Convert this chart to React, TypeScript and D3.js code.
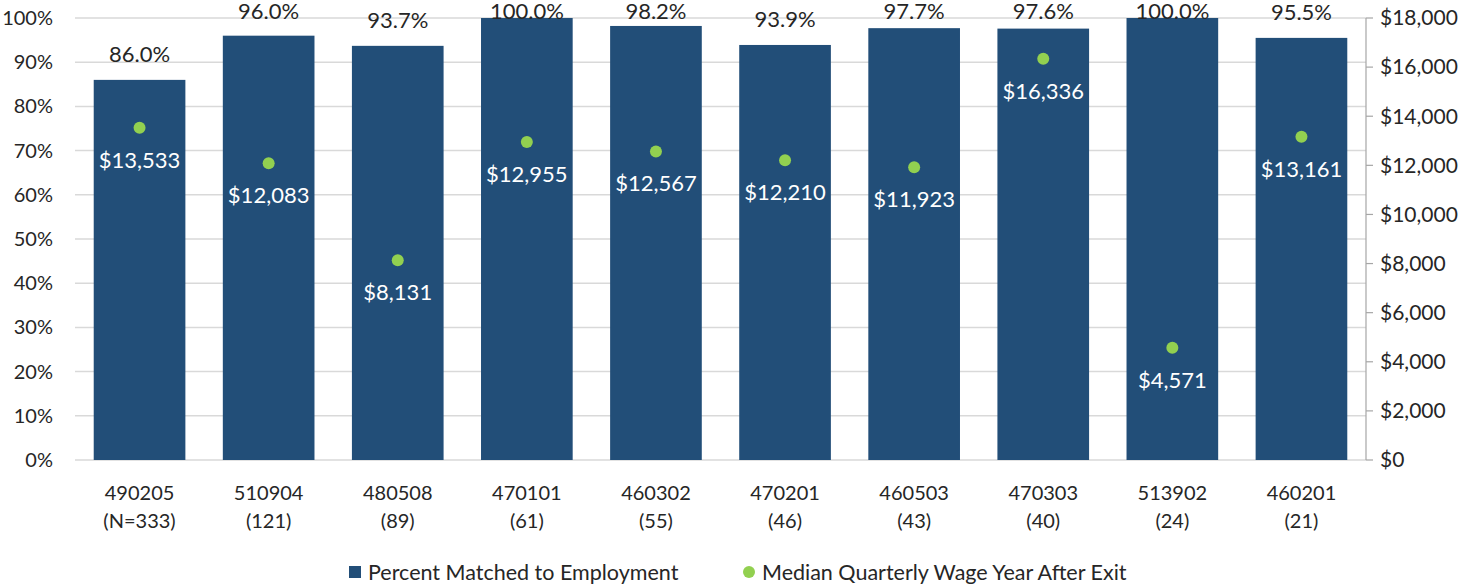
import React from "react";
import * as d3 from "d3";

const codes = ["490205", "510904", "480508", "470101", "460302", "470201", "460503", "470303", "513902", "460201"];
const counts = ["(N=333)", "(121)", "(89)", "(61)", "(55)", "(46)", "(43)", "(40)", "(24)", "(21)"];
const pctMatched = [86.0, 96.0, 93.7, 100.0, 98.2, 93.9, 97.7, 97.6, 100.0, 95.5];
const medianWage = [13533, 12083, 8131, 12955, 12567, 12210, 11923, 16336, 4571, 13161];
const pctTicks = [0, 10, 20, 30, 40, 50, 60, 70, 80, 90, 100];
const wageTicks = [0, 2000, 4000, 6000, 8000, 10000, 12000, 14000, 16000, 18000];

const W = 1481;
const H = 586;
const margin = { top: 18, right: 115, bottom: 126, left: 75 };
const FONT = "Lato, 'Open Sans', sans-serif";
const BAR = "#224E78";
const DOT = "#92D050";

export default function App() {
  const innerW = W - margin.left - margin.right;
  const innerH = H - margin.top - margin.bottom;

  const x = d3.scaleBand().domain(codes).range([0, innerW]).paddingInner(0.29).paddingOuter(0.145);
  const y = d3.scaleLinear().domain([0, 100]).range([innerH, 0]);
  const y2 = d3.scaleLinear().domain([0, 18000]).range([innerH, 0]);
  const money = (v: number) => "$" + d3.format(",")(v);

  return (
    <svg width={W} height={H} style={{ position: "absolute", left: 0, top: 0, background: "#fff" }} fontFamily={FONT}>
      <g transform={`translate(${margin.left},${margin.top})`}>
        {pctTicks.map((t) => (
          <g key={t}>
            <line x1={0} x2={innerW} y1={y(t)} y2={y(t)} stroke="#D9D9D9" strokeWidth={1.5} />
            <text x={-22} y={y(t)} dy="0.35em" textAnchor="end" fontSize={20} fill="#262626">{t}%</text>
          </g>
        ))}
        {codes.map((c, i) => {
          const cx = x(c)! + x.bandwidth() / 2;
          // label sits above the bar, but pushed down so it stays inside the plot
          const labelY = Math.max(y(pctMatched[i]) - 18, 1);
          return (
            <g key={c}>
              <rect x={x(c)} y={y(pctMatched[i])} width={x.bandwidth()} height={innerH - y(pctMatched[i])} fill={BAR} />
              <text x={cx} y={labelY} textAnchor="middle" fontSize={22} fill="#262626">{pctMatched[i].toFixed(1)}%</text>
              <circle cx={cx} cy={y2(medianWage[i])} r={6} fill={DOT} />
              <text x={cx} y={y2(medianWage[i]) + 40} textAnchor="middle" fontSize={22} fill="#fff">{money(medianWage[i])}</text>
              <text x={cx} y={innerH + 40} textAnchor="middle" fontSize={20} fill="#262626">{c}</text>
              <text x={cx} y={innerH + 68} textAnchor="middle" fontSize={20} fill="#262626">{counts[i]}</text>
            </g>
          );
        })}
        <g transform={`translate(${innerW},0)`}>
          <line x1={0} x2={0} y1={0} y2={innerH} stroke="#A6A6A6" strokeWidth={1.2} />
          {wageTicks.map((t) => (
            <g key={t}>
              <line x1={0} x2={7} y1={y2(t)} y2={y2(t)} stroke="#A6A6A6" strokeWidth={1.2} />
              <text x={14} y={y2(t)} dy="0.35em" fontSize={21} fill="#262626">{money(t)}</text>
            </g>
          ))}
        </g>
      </g>
      <g transform="translate(349,572)">
        <rect x={0} y={-6} width={12} height={12} fill={BAR} />
        <text x={19} y={0} dy="0.35em" fontSize={21.5} fill="#262626">Percent Matched to Employment</text>
        <circle cx={400} cy={0} r={6} fill={DOT} />
        <text x={413} y={0} dy="0.35em" fontSize={21.5} fill="#262626">Median Quarterly Wage Year After Exit</text>
      </g>
    </svg>
  );
}
